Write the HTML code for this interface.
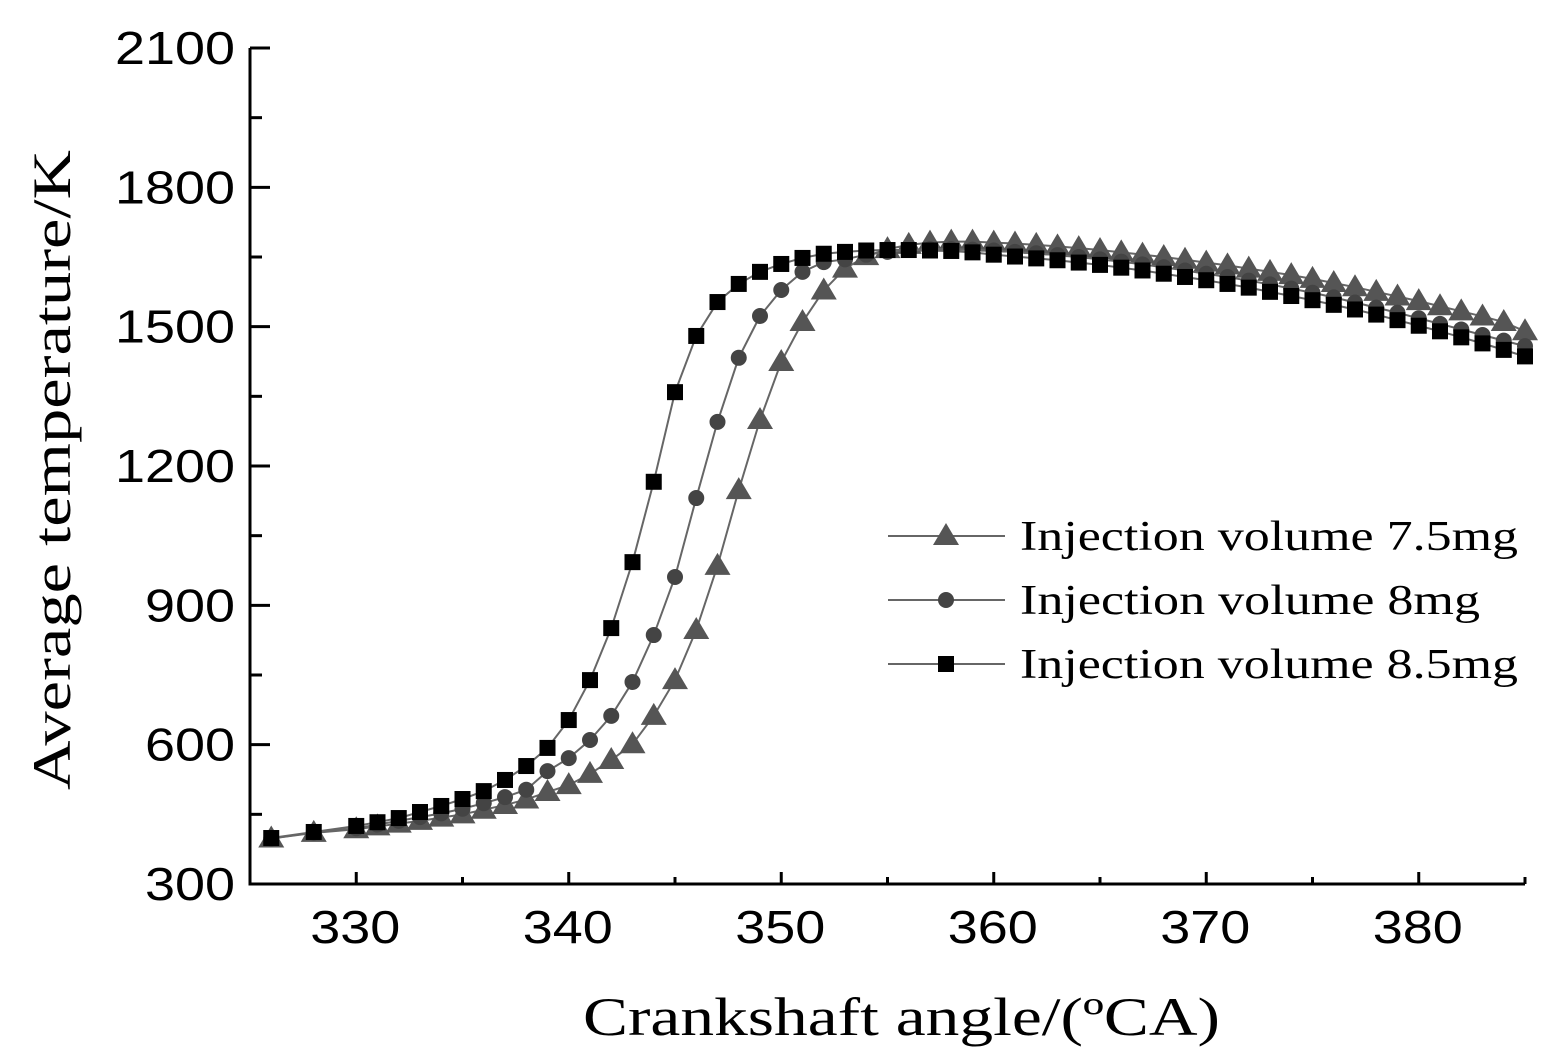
<!DOCTYPE html>
<html><head><meta charset="utf-8"><style>
body{margin:0;background:#fff}
svg{display:block}
</style></head><body>
<svg id="chart" width="1550" height="1061" xmlns="http://www.w3.org/2000/svg">
<g id="axes"></g><g id="series"></g><g id="legend"></g>
</svg>
<script>
const xs=[326,328,330,331,332,333,334,335,336,337,338,339,340,341,342,343,344,345,346,347,348,349,350,351,352,353,354,355,356,357,358,359,360,361,362,363,364,365,366,367,368,369,370,371,372,373,374,375,376,377,378,379,380,381,382,383,384,385];
const t85=[399,412,425,433,442,455,468,483,500,524,554,593,653,739,851,993,1166,1359,1480,1553,1592,1618,1635,1648,1657,1661,1664,1665,1665,1664,1663,1660,1655,1651,1647,1643,1638,1633,1627,1621,1614,1607,1600,1592,1584,1575,1566,1557,1547,1537,1526,1514,1502,1490,1477,1464,1450,1436];
const t80=[398,411,420,428,436,444,452,462,474,487,503,543,571,610,662,735,836,961,1131,1295,1433,1523,1579,1618,1639,1645,1655,1661,1665,1667,1667,1666,1664,1661,1658,1654,1650,1645,1640,1634,1628,1621,1614,1607,1599,1591,1582,1573,1563,1552,1541,1530,1518,1506,1494,1482,1470,1458];
const t75=[398,410,418,424,430,436,443,450,460,470,482,498,513,537,567,601,662,739,847,985,1148,1299,1424,1510,1578,1625,1652,1667,1676,1681,1683,1683,1681,1679,1676,1673,1669,1665,1660,1655,1650,1644,1638,1632,1625,1618,1611,1603,1594,1585,1575,1565,1555,1544,1533,1522,1510,1490];
const xTicks=[330,340,350,360,370,380];
const yTicks=[300,600,900,1200,1500,1800,2100];
const NS="http://www.w3.org/2000/svg";
const X0=250,X1=1525,Y0=884,Y1=48,xmin=325,xmax=385,ymin=300,ymax=2100;
const sx=v=>X0+(v-xmin)/(xmax-xmin)*(X1-X0);
const sy=v=>Y0-(v-ymin)/(ymax-ymin)*(Y0-Y1);
function mk(tag,attrs,parent,text){const e=document.createElementNS(NS,tag);for(const k in attrs)e.setAttribute(k,attrs[k]);if(text!==undefined)e.textContent=text;parent.appendChild(e);return e;}
const ax=document.getElementById('axes');
let e=mk('path',{d:`M${X0},${Y1}V${Y0}H${X1}`,fill:'none',stroke:'#000','stroke-width':3},ax);


for(let v=325;v<=385;v+=5){const big=v%10===0;e=mk('line',{x1:sx(v),x2:sx(v),y1:Y0,y2:Y0-(big?12:7),stroke:'#000','stroke-width':3},ax);

}
xTicks.forEach(v=>{e=mk('text',{x:sx(v)-1,y:943,'text-anchor':'middle','font-family':'Liberation Sans, sans-serif','font-size':46,textLength:90,lengthAdjust:'spacingAndGlyphs'},ax,v);

});
for(let v=300;v<=2100;v+=150){const big=v%300===0;e=mk('line',{x1:X0,x2:X0+(big?20:12),y1:sy(v),y2:sy(v),stroke:'#000','stroke-width':3},ax);

}
yTicks.forEach(v=>{const n=String(v).length;e=mk('text',{x:235,y:sy(v)+16,'text-anchor':'end','font-family':'Liberation Sans, sans-serif','font-size':46,textLength:n*30,lengthAdjust:'spacingAndGlyphs'},ax,v);

});
e=mk('text',{x:583,y:1035,'font-family':'Liberation Serif, serif','font-size':54,textLength:637,lengthAdjust:'spacingAndGlyphs'},ax,'Crankshaft angle/(ºCA)');


e=mk('text',{x:0,y:0,transform:'translate(70,790) rotate(-90)','font-family':'Liberation Serif, serif','font-size':54,textLength:640,lengthAdjust:'spacingAndGlyphs'},ax,'Average temperature/K');


const sg=document.getElementById('series');
function marker(type,cx,cy,color,parent){
 let m;
 if(type==='sq') m=mk('rect',{x:cx-8,y:cy-8,width:16,height:16,fill:color},parent);
 else if(type==='ci') m=mk('circle',{cx:cx,cy:cy,r:8,fill:color},parent);
 else m=mk('polygon',{points:`${cx},${cy-13} ${cx-13},${cy+9} ${cx+13},${cy+9}`,fill:color},parent);
 return m;}
const series=[{name:'series-7-5mg',d:t75,t:'tr',c:'#555',label:'Injection volume 7.5mg'},{name:'series-8mg',d:t80,t:'ci',c:'#444',label:'Injection volume 8mg'},{name:'series-8-5mg',d:t85,t:'sq',c:'#000',label:'Injection volume 8.5mg'}];
const lens=[498,460,498];
series.forEach(s=>{
 const g=mk('g',{},sg);
 
 
 e=mk('polyline',{points:xs.map((x,i)=>sx(x)+','+sy(s.d[i])).join(' '),fill:'none',stroke:'#666','stroke-width':2},g);
 
 
 xs.forEach((x,i)=>{const m=marker(s.t,sx(x),sy(s.d[i]),s.c,g);
 
 });
});
const lg=document.getElementById('legend');
series.forEach((s,i)=>{
 const y=536+i*64;
 const g=mk('g',{},lg);
 
 
 mk('line',{x1:888,x2:1005,y1:y,y2:y,stroke:'#666','stroke-width':2},g);
 marker(s.t,946,y,s.c,g);
 mk('text',{x:1020,y:y+14,'font-family':'Liberation Serif, serif','font-size':42,textLength:lens[i],lengthAdjust:'spacingAndGlyphs'},g,s.label);
});
</script>
</body></html>
